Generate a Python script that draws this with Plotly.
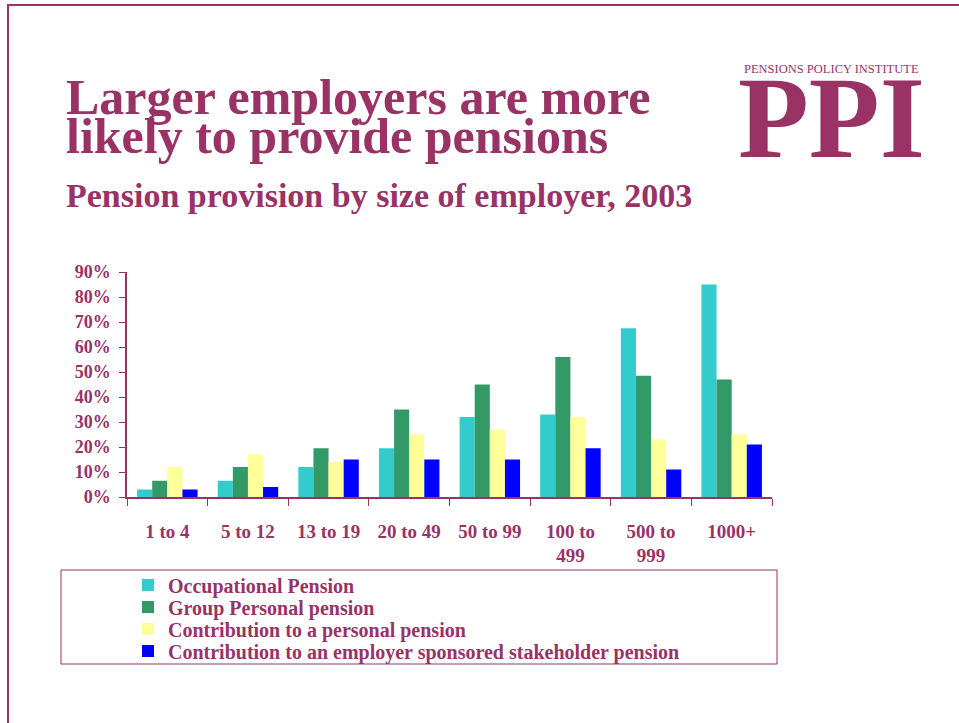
import plotly.graph_objects as go

# Employer size bands (number of employees)
sizes = ["1 to 4", "5 to 12", "13 to 19", "20 to 49", "50 to 99",
         "100 to<br>499", "500 to<br>999", "1000+"]

# Share of employers offering each type of provision, 2003 (%)
occupational = [3, 6.5, 12, 19.5, 32, 33, 67.5, 85]
group_personal = [6.5, 12, 19.5, 35, 45, 56, 48.5, 47]
personal_contrib = [12, 17, 14, 25, 27, 32, 23, 25]
stakeholder_contrib = [3, 4, 15, 15, 15, 19.5, 11, 21]

series_names = [
    "Occupational Pension",
    "Group Personal pension",
    "Contribution to a personal pension",
    "Contribution to an employer sponsored stakeholder pension",
]
series_values = [occupational, group_personal, personal_contrib, stakeholder_contrib]
series_colors = ["#33CCCC", "#339966", "#FFFF99", "#0000FF"]

PLUM = "#993366"
SERIF = "Liberation Serif, Times New Roman, serif"
W, H = 959, 723


def px_x(x):
    return x / W


def px_y(y):
    return 1 - y / H


# one legend box per series so the rows can be spaced tightly
legend_ids = ["legend", "legend2", "legend3", "legend4"]
legend_rows = [585, 607, 629, 651]

fig = go.Figure()
for name, vals, col, lid in zip(series_names, series_values, series_colors, legend_ids):
    fig.add_trace(go.Bar(x=sizes, y=vals, name=name, marker_color=col,
                         marker_line_width=0, legend=lid))

legend_font = dict(family=SERIF, size=20, color=PLUM, weight="bold")
legend_layouts = {
    lid: dict(x=px_x(128), xanchor="left", y=px_y(row), yanchor="middle",
              bgcolor="rgba(0,0,0,0)", borderwidth=0, font=legend_font)
    for lid, row in zip(legend_ids, legend_rows)
}

fig.update_layout(
    width=W, height=H,
    margin=dict(l=0, r=0, t=0, b=0, autoexpand=False),
    paper_bgcolor="white", plot_bgcolor="white",
    barmode="group", bargap=0.25, bargroupgap=0,
    font=dict(family=SERIF, color=PLUM),
    xaxis=dict(
        domain=[px_x(127), px_x(772)],
        showline=True, linecolor=PLUM, linewidth=1.5,
        ticks="outside", ticklen=7, tickcolor=PLUM, tickson="boundaries",
        tickfont=dict(family=SERIF, size=19, color=PLUM, weight="bold"),
        ticklabelstandoff=16,
        showgrid=False,
    ),
    yaxis=dict(
        domain=[px_y(497), px_y(272)],
        range=[0, 90], dtick=10, ticksuffix="%",
        showline=True, linecolor=PLUM, linewidth=1.5,
        ticks="outside", ticklen=6, tickcolor=PLUM,
        tickfont=dict(family=SERIF, size=18, color=PLUM, weight="bold"),
        ticklabelstandoff=5,
        showgrid=False, zeroline=False,
    ),
    showlegend=True,
    **legend_layouts,
)

shapes = [
    # page frame: top and left rules
    dict(type="line", xref="paper", yref="paper",
         x0=px_x(8), x1=px_x(959), y0=px_y(5), y1=px_y(5),
         line=dict(color=PLUM, width=2)),
    dict(type="line", xref="paper", yref="paper",
         x0=px_x(8), x1=px_x(8), y0=px_y(4), y1=px_y(723),
         line=dict(color=PLUM, width=2)),
    # legend frame
    dict(type="rect", xref="paper", yref="paper",
         x0=px_x(61), x1=px_x(777), y0=px_y(570), y1=px_y(664),
         line=dict(color=PLUM, width=1), fillcolor="rgba(0,0,0,0)"),
]
fig.update_layout(shapes=shapes)

annotations = [
    dict(text="<b>Larger employers are more</b>", x=px_x(64), y=px_y(97), size=50),
    dict(text="<b>likely to provide pensions</b>", x=px_x(64), y=px_y(136), size=50),
    dict(text="<b>Pension provision by size of employer, 2003</b>",
         x=px_x(64), y=px_y(196), size=34),
    dict(text="PENSIONS POLICY INSTITUTE", x=px_x(742), y=px_y(69), size=12.5),
    dict(text="<b>PPI</b>", x=px_x(736), y=px_y(118), size=116),
]
for a in annotations:
    fig.add_annotation(xref="paper", yref="paper", xanchor="left",
                       yanchor="middle", showarrow=False,
                       font=dict(family=SERIF, color=PLUM, size=a["size"]),
                       text=a["text"], x=a["x"], y=a["y"])

fig.write_html("out.html")
